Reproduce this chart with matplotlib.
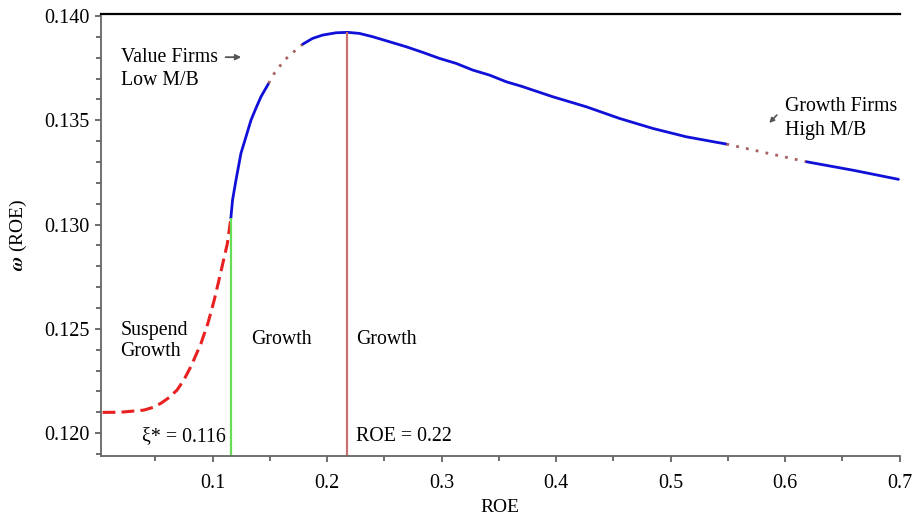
import numpy as np
import matplotlib.pyplot as plt
from matplotlib.ticker import MultipleLocator, FixedLocator

plt.rcParams['font.family'] = ['Liberation Serif', 'DejaVu Serif', 'DejaVu Sans']
plt.rcParams['mathtext.fontset'] = 'stix'

# omega(ROE) curve
suspend_roe = [0.004, 0.020, 0.040, 0.048, 0.055, 0.062, 0.069, 0.075, 0.081, 0.086, 0.090,
               0.096, 0.1015, 0.107, 0.113, 0.116]
suspend_omega = [0.12099, 0.12100, 0.12110, 0.12123, 0.12143, 0.12170, 0.12206, 0.12255,
                 0.12318, 0.12380, 0.12431, 0.12527, 0.12638, 0.12766, 0.12910, 0.13030]

grow1_roe = [0.116, 0.1175, 0.1205, 0.1248, 0.1292, 0.1336, 0.1379, 0.1423, 0.1490]
grow1_omega = [0.13030, 0.13118, 0.13214, 0.13341, 0.13421, 0.13501, 0.13558, 0.13613, 0.13677]

value_roe = [0.1490, 0.1539, 0.1583, 0.1635, 0.1694, 0.1743, 0.1790]
value_omega = [0.13677, 0.13725, 0.13757, 0.13792, 0.13821, 0.13845, 0.13866]

grow2_roe = [0.1790, 0.1874, 0.1962, 0.2079, 0.2180, 0.2282, 0.2399, 0.2545, 0.2691,
             0.2836, 0.2982, 0.3128, 0.3273, 0.3419, 0.3565, 0.3700, 0.3972, 0.4264,
             0.4555, 0.4846, 0.5138, 0.5488]
grow2_omega = [0.13866, 0.13893, 0.13909, 0.13920, 0.13922, 0.13917, 0.13901, 0.13877,
               0.13853, 0.13826, 0.13797, 0.13773, 0.13741, 0.13717, 0.13685, 0.13663,
               0.13613, 0.13565, 0.13509, 0.13461, 0.13421, 0.13386]

high_roe = [0.5488, 0.585, 0.619]
high_omega = [0.13386, 0.13342, 0.13301]

grow3_roe = [0.619, 0.66, 0.699]
grow3_omega = [0.13301, 0.13260, 0.13217]

xi_star = 0.116
xi_omega = 0.13030
roe_peak = 0.2175
peak_omega = 0.13922

xticks = [0.1, 0.2, 0.3, 0.4, 0.5, 0.6, 0.7]
yticks = [0.120, 0.125, 0.130, 0.135, 0.140]

fig = plt.figure(figsize=(9.17, 5.15), dpi=100)
ax = fig.add_axes([0.110, 0.1146, 0.871, 0.8582])

blue = '#1010d8'
dot_col = '#a86060'

ax.plot(suspend_roe, suspend_omega, color='#e82020', lw=2.2, dashes=(4.2, 2.0))
ax.plot(grow1_roe, grow1_omega, color=blue, lw=2.0, solid_capstyle='round')
ax.plot(value_roe, value_omega, color=dot_col, lw=2.0, dashes=(1, 2.6))
ax.plot(grow2_roe, grow2_omega, color=blue, lw=2.0, solid_capstyle='round')
ax.plot(high_roe, high_omega, color=dot_col, lw=2.0, dashes=(1, 2.6))
ax.plot(grow3_roe, grow3_omega, color=blue, lw=2.0, solid_capstyle='round')

ax.vlines(xi_star, 0.1189, xi_omega, color='#66dd55', lw=1.6)
ax.vlines(roe_peak, 0.1189, peak_omega, color='#c87070', lw=1.6)

ax.set_xlim(0.0025, 0.7)
ax.set_ylim(0.1189, 0.1401)

ax.xaxis.set_major_locator(FixedLocator(xticks))
ax.xaxis.set_minor_locator(MultipleLocator(0.05))
ax.yaxis.set_major_locator(FixedLocator(yticks))
ax.yaxis.set_minor_locator(MultipleLocator(0.001))
ax.set_xticklabels(['%g' % t for t in xticks])
ax.set_yticklabels(['%.3f' % t for t in yticks])

ax.tick_params(axis='both', which='major', labelsize=14.5, length=4, width=1.2, color='#555555')
ax.tick_params(axis='both', which='minor', length=3.5, width=1.2, color='#555555')
ax.tick_params(axis='x', which='major', pad=9)
ax.tick_params(axis='y', which='major', pad=4)

for s in ['left', 'bottom']:
    ax.spines[s].set_color('#666666')
    ax.spines[s].set_linewidth(1.3)
ax.spines['right'].set_visible(False)
ax.spines['top'].set_color('black')
ax.spines['top'].set_linewidth(1.6)

ax.set_xlabel('ROE', fontsize=14)
ax.xaxis.set_label_coords(0.5, -0.097)
ax.set_ylabel(r'$\boldsymbol{\omega}$ (ROE)', fontsize=14)
ax.yaxis.set_label_coords(-0.090, 0.5)

fs = 14.3
ax.text(0.0202, 0.13803, 'Value Firms', fontsize=fs, va='center')
ax.text(0.0202, 0.13693, 'Low M/B', fontsize=fs, va='center')
ax.annotate('', xy=(0.1275, 0.13803), xytext=(0.1090, 0.13803),
            arrowprops=dict(arrowstyle='-|>', color='#555555', lw=1.3, mutation_scale=8))

ax.text(0.0194, 0.12494, 'Suspend', fontsize=fs, va='center')
ax.text(0.0194, 0.12390, 'Growth', fontsize=fs, va='center')
ax.text(0.1339, 0.12451, 'Growth', fontsize=fs, va='center')
ax.text(0.2253, 0.12451, 'Growth', fontsize=fs, va='center')
ax.text(0.0386, 0.11982, 'ξ* = 0.116', fontsize=fs, va='center')
ax.text(0.2253, 0.11982, 'ROE = 0.22', fontsize=fs, va='center')

ax.text(0.5996, 0.13565, 'Growth Firms', fontsize=fs, va='center')
ax.text(0.5996, 0.13453, 'High M/B', fontsize=fs, va='center')
ax.annotate('', xy=(0.5845, 0.13478), xytext=(0.5945, 0.13535),
            arrowprops=dict(arrowstyle='-|>', color='#555555', lw=1.2, mutation_scale=7))

fig.savefig('out.png', dpi=100)
